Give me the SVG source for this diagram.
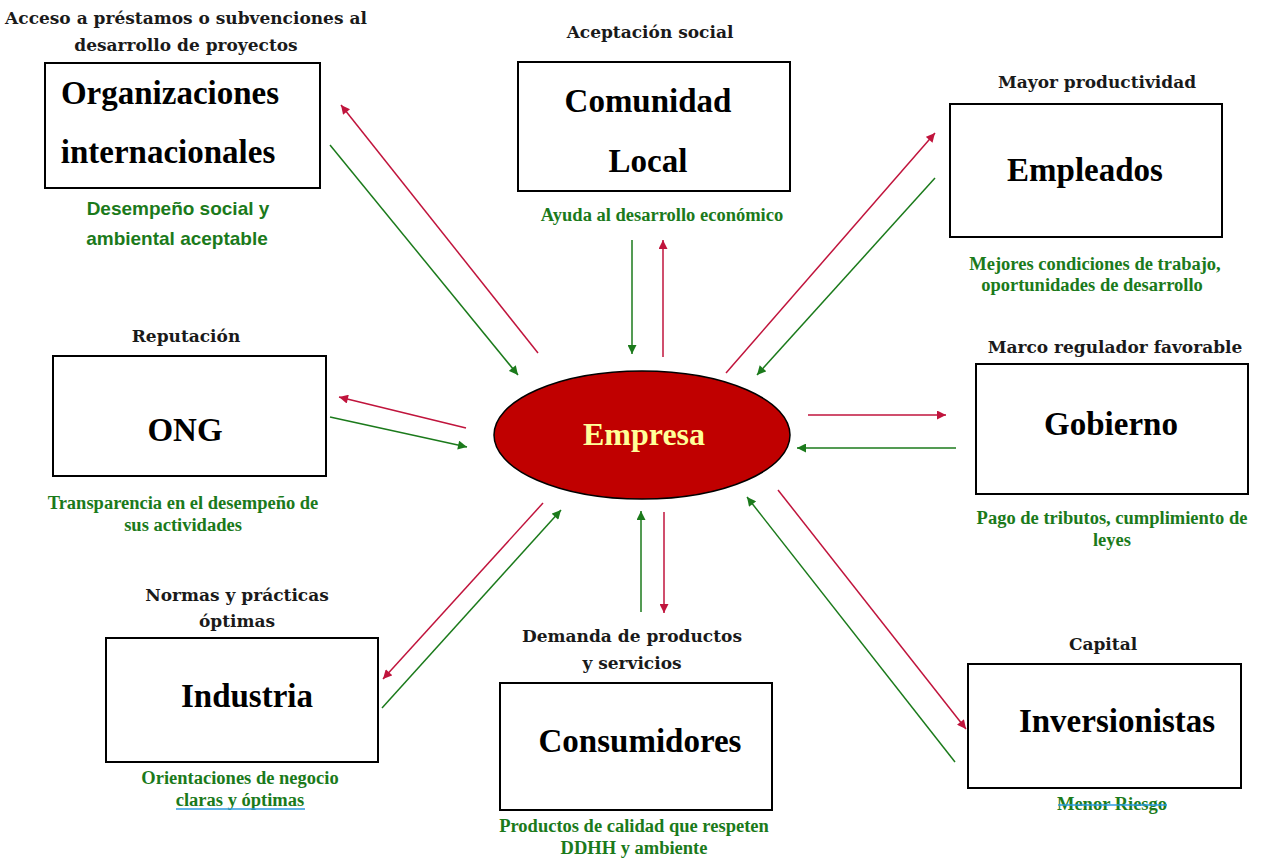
<svg xmlns="http://www.w3.org/2000/svg" width="1261" height="859" viewBox="0 0 1261 859">
<style>
.box{fill:#fff;stroke:#000;stroke-width:2}
.node{font-family:"Liberation Serif",serif;font-weight:bold;font-size:33px;fill:#000;text-anchor:middle}
.lbl{font-family:"DejaVu Serif",serif;font-weight:bold;font-size:17px;fill:#1a1a1a;text-anchor:middle}
.grn{font-family:"Liberation Serif",serif;font-weight:bold;font-size:18.5px;fill:#1b7a1b;text-anchor:middle}
.grns{font-family:"Liberation Sans",sans-serif;font-weight:bold;font-size:19px;fill:#1b7a1b;text-anchor:middle}
.r{stroke:#c0143c;stroke-width:1.5;fill:none;marker-end:url(#ar)}
.g{stroke:#1b7a1b;stroke-width:1.5;fill:none;marker-end:url(#ag)}
</style>
<defs>
<marker id="ar" viewBox="0 0 10 10" refX="10" refY="5" markerWidth="10" markerHeight="9" markerUnits="userSpaceOnUse" orient="auto"><path d="M0,0 L10,5 L0,10 Z" fill="#c0143c"/></marker>
<marker id="ag" viewBox="0 0 10 10" refX="10" refY="5" markerWidth="10" markerHeight="9" markerUnits="userSpaceOnUse" orient="auto"><path d="M0,0 L10,5 L0,10 Z" fill="#1b7a1b"/></marker>
</defs>
<rect width="1261" height="859" fill="#fff"/>
<g id="connectors">
<line class="r" x1="538" y1="353" x2="341" y2="105"/>
<line class="g" x1="330" y1="145" x2="518" y2="375"/>
<line class="g" x1="632" y1="240" x2="632" y2="354"/>
<line class="r" x1="663" y1="357" x2="663" y2="240"/>
<line class="r" x1="726" y1="373" x2="935" y2="133"/>
<line class="g" x1="935" y1="178" x2="757" y2="375"/>
<line class="r" x1="808" y1="415" x2="946" y2="415"/>
<line class="g" x1="956" y1="448" x2="797" y2="448"/>
<line class="r" x1="466" y1="428" x2="339" y2="397"/>
<line class="g" x1="330" y1="417" x2="467" y2="447"/>
<line class="r" x1="543" y1="503" x2="383" y2="679"/>
<line class="g" x1="382" y1="708" x2="561" y2="510"/>
<line class="g" x1="641" y1="612" x2="641" y2="511"/>
<line class="r" x1="664" y1="512" x2="664" y2="613"/>
<line class="r" x1="778" y1="490" x2="966" y2="729"/>
<line class="g" x1="955" y1="762" x2="747" y2="497"/>
</g>
<g id="empresa">
<ellipse cx="642" cy="435" rx="148" ry="64" fill="#c00000" stroke="#000" stroke-width="1.5"/>
<text x="644" y="445" font-family="Liberation Serif,serif" font-weight="bold" font-size="32" fill="#ffff99" text-anchor="middle">Empresa</text>
</g>
<g id="organizaciones">
<text class="lbl" x="186" y="24">Acceso a préstamos o subvenciones al</text>
<text class="lbl" x="186" y="51">desarrollo de proyectos</text>
<rect class="box" x="45" y="63" width="275" height="125"/>
<text class="node" x="170" y="104">Organizaciones</text>
<text class="node" x="168" y="163">internacionales</text>
<text class="grns" x="178" y="215">Desempeño social y</text>
<text class="grns" x="177" y="245">ambiental aceptable</text>
</g>
<g id="comunidad">
<text class="lbl" x="650" y="38">Aceptación social</text>
<rect class="box" x="518" y="62" width="272" height="129"/>
<text class="node" x="648" y="112">Comunidad</text>
<text class="node" x="648" y="172">Local</text>
<text class="grn" x="662" y="221">Ayuda al desarrollo económico</text>
</g>
<g id="empleados">
<text class="lbl" x="1097" y="88">Mayor productividad</text>
<rect class="box" x="950" y="104" width="272" height="133"/>
<text class="node" x="1085" y="181">Empleados</text>
<text class="grn" x="1095" y="270">Mejores condiciones de trabajo,</text>
<text class="grn" x="1092" y="291">oportunidades de desarrollo</text>
</g>
<g id="gobierno">
<text class="lbl" x="1115" y="353">Marco regulador favorable</text>
<rect class="box" x="976" y="364" width="272" height="130"/>
<text class="node" x="1111" y="435">Gobierno</text>
<text class="grn" x="1112" y="524">Pago de tributos, cumplimiento  de</text>
<text class="grn" x="1112" y="546">leyes</text>
</g>
<g id="ong">
<text class="lbl" x="186" y="342">Reputación</text>
<rect class="box" x="53" y="356" width="273" height="120"/>
<text class="node" x="185" y="441">ONG</text>
<text class="grn" x="183" y="509">Transparencia en el desempeño de</text>
<text class="grn" x="183" y="531">sus actividades</text>
</g>
<g id="industria">
<text class="lbl" x="237" y="601">Normas y prácticas</text>
<text class="lbl" x="237" y="627">óptimas</text>
<rect class="box" x="106" y="638" width="272" height="124"/>
<text class="node" x="247" y="707">Industria</text>
<text class="grn" x="240" y="784">Orientaciones de negocio</text>
<text class="grn" x="240" y="806">claras y óptimas</text>
<line x1="176" y1="809" x2="305" y2="809" stroke="#2e9be0" stroke-width="1.5"/>
</g>
<g id="consumidores">
<text class="lbl" x="632" y="642">Demanda de productos</text>
<text class="lbl" x="632" y="669">y servicios</text>
<rect class="box" x="500" y="683" width="272" height="127"/>
<text class="node" x="640" y="752">Consumidores</text>
<text class="grn" x="634" y="832">Productos de calidad que respeten</text>
<text class="grn" x="634" y="854">DDHH y ambiente</text>
</g>
<g id="inversionistas">
<text class="lbl" x="1103" y="650">Capital</text>
<rect class="box" x="968" y="664" width="273" height="124"/>
<text class="node" x="1117" y="732">Inversionistas</text>
<text class="grn" x="1112" y="810">Menor Riesgo</text>
<line x1="1058" y1="805" x2="1167" y2="805" stroke="#2e9be0" stroke-width="1.5"/>
</g>
</svg>
